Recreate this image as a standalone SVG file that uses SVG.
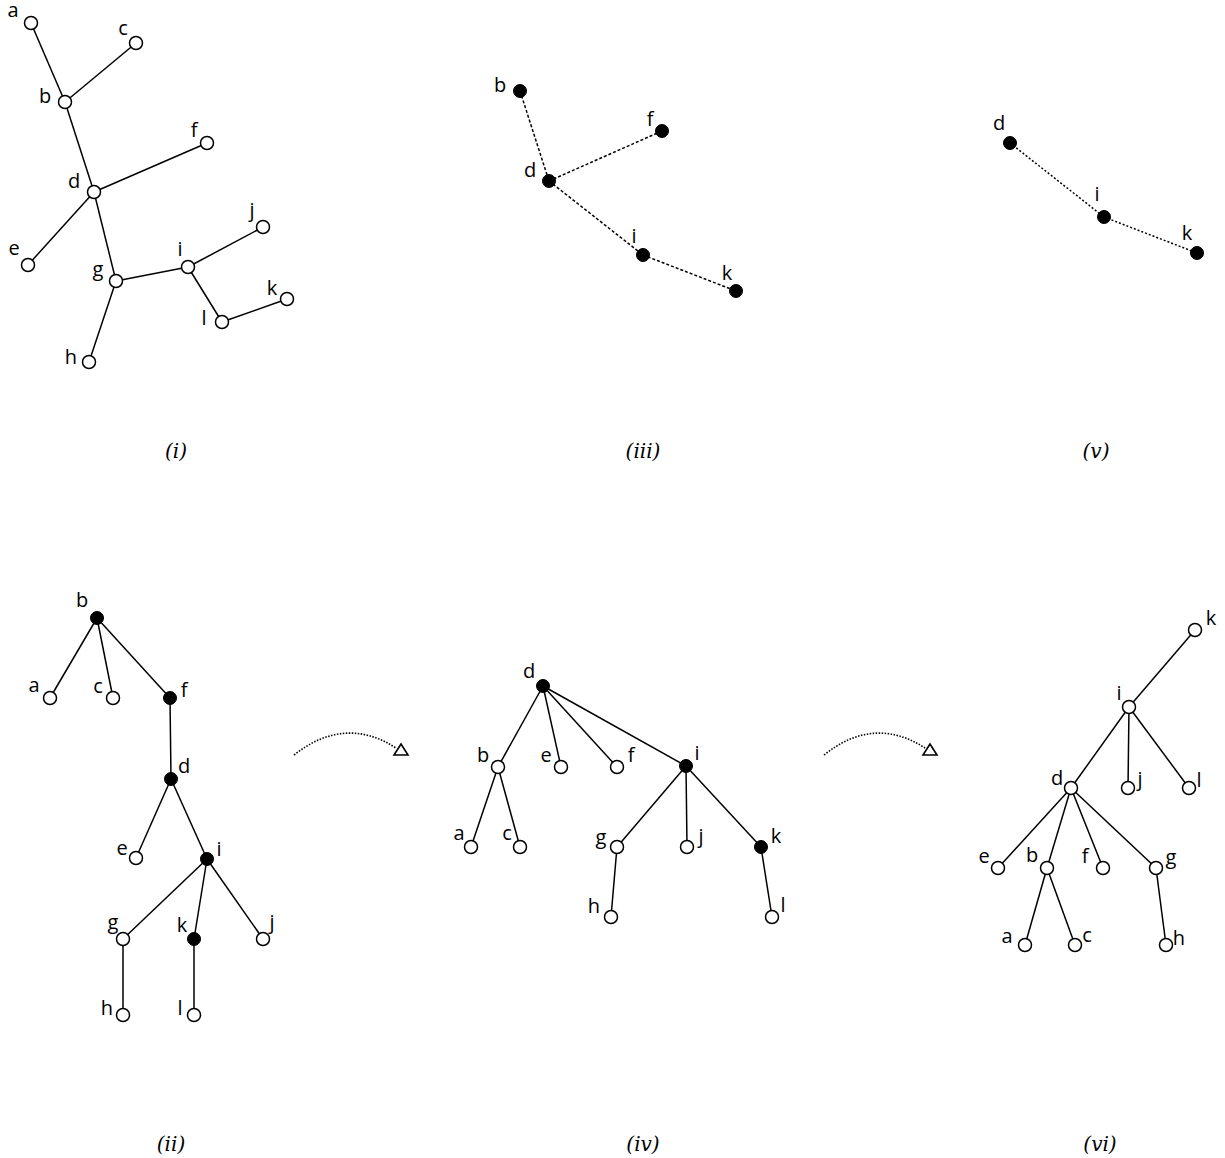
<svg xmlns="http://www.w3.org/2000/svg" width="1225" height="1158" viewBox="0 0 1225 1158">
<style>
.e{stroke:#000;stroke-width:1.5;fill:none}
.dash{stroke:#000;stroke-width:1.5;fill:none;stroke-dasharray:3 2}
.dot{stroke:#000;stroke-width:1.5;fill:none;stroke-dasharray:2 2}
.arc{stroke:#000;stroke-width:1.6;fill:none;stroke-dasharray:1.5 1.5}
.o{fill:#fff;stroke:#000;stroke-width:1.5}
.f{fill:#000;stroke:#000;stroke-width:1}
.t{font-family:"Open Sans","DejaVu Sans",sans-serif;font-size:20px;fill:#000;text-anchor:middle}
.cap{font-family:"DejaVu Serif",serif;font-style:italic;font-size:20px;fill:#000;text-anchor:middle}
.tri{fill:#fff;stroke:#000;stroke-width:1.6}
</style>
<rect width="1225" height="1158" fill="#fff"/>
<g id="connectors">
<line class="e" x1="31" y1="23" x2="65" y2="102"/>
<line class="e" x1="136" y1="43" x2="65" y2="102"/>
<line class="e" x1="65" y1="102" x2="94" y2="192"/>
<line class="e" x1="94" y1="192" x2="207" y2="143"/>
<line class="e" x1="94" y1="192" x2="28" y2="265"/>
<line class="e" x1="94" y1="192" x2="116" y2="281"/>
<line class="e" x1="116" y1="281" x2="188" y2="267"/>
<line class="e" x1="116" y1="281" x2="89" y2="362"/>
<line class="e" x1="188" y1="267" x2="263" y2="227"/>
<line class="e" x1="188" y1="267" x2="222" y2="322"/>
<line class="e" x1="222" y1="322" x2="287" y2="299"/>
<line class="dash" x1="520" y1="91" x2="549" y2="181"/>
<line class="dash" x1="549" y1="181" x2="662" y2="131"/>
<line class="dash" x1="549" y1="181" x2="643" y2="255"/>
<line class="dash" x1="643" y1="255" x2="736" y2="291"/>
<line class="dot" x1="1010" y1="143" x2="1104" y2="217"/>
<line class="dot" x1="1104" y1="217" x2="1197" y2="253"/>
<line class="e" x1="97" y1="618" x2="50" y2="698"/>
<line class="e" x1="97" y1="618" x2="113" y2="698"/>
<line class="e" x1="97" y1="618" x2="170" y2="698"/>
<line class="e" x1="170" y1="698" x2="171" y2="779"/>
<line class="e" x1="171" y1="779" x2="136" y2="858"/>
<line class="e" x1="171" y1="779" x2="207" y2="859"/>
<line class="e" x1="207" y1="859" x2="123" y2="939"/>
<line class="e" x1="207" y1="859" x2="194" y2="939"/>
<line class="e" x1="207" y1="859" x2="263" y2="939"/>
<line class="e" x1="123" y1="939" x2="123" y2="1015"/>
<line class="e" x1="194" y1="939" x2="194" y2="1015"/>
<line class="e" x1="543" y1="686" x2="498" y2="767"/>
<line class="e" x1="543" y1="686" x2="561" y2="767"/>
<line class="e" x1="543" y1="686" x2="617" y2="767"/>
<line class="e" x1="543" y1="686" x2="686" y2="766"/>
<line class="e" x1="498" y1="767" x2="471" y2="847"/>
<line class="e" x1="498" y1="767" x2="520" y2="847"/>
<line class="e" x1="686" y1="766" x2="617" y2="847"/>
<line class="e" x1="686" y1="766" x2="687" y2="847"/>
<line class="e" x1="686" y1="766" x2="761" y2="847"/>
<line class="e" x1="617" y1="847" x2="611" y2="917"/>
<line class="e" x1="761" y1="847" x2="772" y2="917"/>
<line class="e" x1="1195" y1="630" x2="1129" y2="707"/>
<line class="e" x1="1129" y1="707" x2="1071" y2="788"/>
<line class="e" x1="1129" y1="707" x2="1128" y2="788"/>
<line class="e" x1="1129" y1="707" x2="1189" y2="788"/>
<line class="e" x1="1071" y1="788" x2="998" y2="868"/>
<line class="e" x1="1071" y1="788" x2="1047" y2="868"/>
<line class="e" x1="1071" y1="788" x2="1103" y2="868"/>
<line class="e" x1="1071" y1="788" x2="1156" y2="868"/>
<line class="e" x1="1047" y1="868" x2="1025" y2="945"/>
<line class="e" x1="1047" y1="868" x2="1075" y2="945"/>
<line class="e" x1="1156" y1="868" x2="1166" y2="945"/>
<path class="arc" d="M294,755 Q345,715 396,748"/>
<polygon class="tri" points="401,744 394,755 408,755"/>
<path class="arc" d="M824,755 Q874,715 925,748"/>
<polygon class="tri" points="930,744 923,755 937,755"/>
</g>
<g id="panel-i">
<g id="i-a"><circle class="o" cx="31" cy="23" r="6.5"/><text class="t" x="13" y="17">a</text></g>
<g id="i-c"><circle class="o" cx="136" cy="43" r="6.5"/><text class="t" x="123" y="35">c</text></g>
<g id="i-b"><circle class="o" cx="65" cy="102" r="6.5"/><text class="t" x="45" y="103">b</text></g>
<g id="i-f"><circle class="o" cx="207" cy="143" r="6.5"/><text class="t" x="194" y="137">f</text></g>
<g id="i-d"><circle class="o" cx="94" cy="192" r="6.5"/><text class="t" x="74" y="188">d</text></g>
<g id="i-e"><circle class="o" cx="28" cy="265" r="6.5"/><text class="t" x="14" y="255">e</text></g>
<g id="i-j"><circle class="o" cx="263" cy="227" r="6.5"/><text class="t" x="252" y="217">j</text></g>
<g id="i-i"><circle class="o" cx="188" cy="267" r="6.5"/><text class="t" x="180" y="256">i</text></g>
<g id="i-g"><circle class="o" cx="116" cy="281" r="6.5"/><text class="t" x="98" y="276">g</text></g>
<g id="i-k"><circle class="o" cx="287" cy="299" r="6.5"/><text class="t" x="272" y="295">k</text></g>
<g id="i-l"><circle class="o" cx="222" cy="322" r="6.5"/><text class="t" x="204" y="325">l</text></g>
<g id="i-h"><circle class="o" cx="89" cy="362" r="6.5"/><text class="t" x="71" y="364">h</text></g>
</g>
<g id="panel-iii">
<g id="iii-b"><circle class="f" cx="520" cy="91" r="6.5"/><text class="t" x="500" y="92">b</text></g>
<g id="iii-f"><circle class="f" cx="662" cy="131" r="6.5"/><text class="t" x="650" y="126">f</text></g>
<g id="iii-d"><circle class="f" cx="549" cy="181" r="6.5"/><text class="t" x="530" y="177">d</text></g>
<g id="iii-i"><circle class="f" cx="643" cy="255" r="6.5"/><text class="t" x="634" y="243">i</text></g>
<g id="iii-k"><circle class="f" cx="736" cy="291" r="6.5"/><text class="t" x="727" y="280">k</text></g>
</g>
<g id="panel-v">
<g id="v-d"><circle class="f" cx="1010" cy="143" r="6.5"/><text class="t" x="999" y="130">d</text></g>
<g id="v-i"><circle class="f" cx="1104" cy="217" r="6.5"/><text class="t" x="1097" y="201">i</text></g>
<g id="v-k"><circle class="f" cx="1197" cy="253" r="6.5"/><text class="t" x="1187" y="240">k</text></g>
</g>
<g id="panel-ii">
<g id="ii-b"><circle class="f" cx="97" cy="618" r="6.5"/><text class="t" x="82" y="607">b</text></g>
<g id="ii-a"><circle class="o" cx="50" cy="698" r="6.5"/><text class="t" x="34" y="692">a</text></g>
<g id="ii-c"><circle class="o" cx="113" cy="698" r="6.5"/><text class="t" x="98" y="693">c</text></g>
<g id="ii-f"><circle class="f" cx="170" cy="698" r="6.5"/><text class="t" x="184" y="697">f</text></g>
<g id="ii-d"><circle class="f" cx="171" cy="779" r="6.5"/><text class="t" x="184" y="773">d</text></g>
<g id="ii-e"><circle class="o" cx="136" cy="858" r="6.5"/><text class="t" x="122" y="855">e</text></g>
<g id="ii-i"><circle class="f" cx="207" cy="859" r="6.5"/><text class="t" x="219" y="856">i</text></g>
<g id="ii-g"><circle class="o" cx="123" cy="939" r="6.5"/><text class="t" x="113" y="929">g</text></g>
<g id="ii-k"><circle class="f" cx="194" cy="939" r="6.5"/><text class="t" x="182" y="932">k</text></g>
<g id="ii-j"><circle class="o" cx="263" cy="939" r="6.5"/><text class="t" x="272" y="929">j</text></g>
<g id="ii-h"><circle class="o" cx="123" cy="1015" r="6.5"/><text class="t" x="107" y="1015">h</text></g>
<g id="ii-l"><circle class="o" cx="194" cy="1015" r="6.5"/><text class="t" x="180" y="1015">l</text></g>
</g>
<g id="panel-iv">
<g id="iv-d"><circle class="f" cx="543" cy="686" r="6.5"/><text class="t" x="529" y="678">d</text></g>
<g id="iv-b"><circle class="o" cx="498" cy="767" r="6.5"/><text class="t" x="483" y="762">b</text></g>
<g id="iv-e"><circle class="o" cx="561" cy="767" r="6.5"/><text class="t" x="546" y="762">e</text></g>
<g id="iv-f"><circle class="o" cx="617" cy="767" r="6.5"/><text class="t" x="631" y="762">f</text></g>
<g id="iv-i"><circle class="f" cx="686" cy="766" r="6.5"/><text class="t" x="697" y="760">i</text></g>
<g id="iv-a"><circle class="o" cx="471" cy="847" r="6.5"/><text class="t" x="459" y="840">a</text></g>
<g id="iv-c"><circle class="o" cx="520" cy="847" r="6.5"/><text class="t" x="507" y="840">c</text></g>
<g id="iv-g"><circle class="o" cx="617" cy="847" r="6.5"/><text class="t" x="601" y="844">g</text></g>
<g id="iv-j"><circle class="o" cx="687" cy="847" r="6.5"/><text class="t" x="701" y="843">j</text></g>
<g id="iv-k"><circle class="f" cx="761" cy="847" r="6.5"/><text class="t" x="776" y="843">k</text></g>
<g id="iv-h"><circle class="o" cx="611" cy="917" r="6.5"/><text class="t" x="594" y="913">h</text></g>
<g id="iv-l"><circle class="o" cx="772" cy="917" r="6.5"/><text class="t" x="783" y="912">l</text></g>
</g>
<g id="panel-vi">
<g id="vi-k"><circle class="o" cx="1195" cy="630" r="6.5"/><text class="t" x="1211" y="625">k</text></g>
<g id="vi-i"><circle class="o" cx="1129" cy="707" r="6.5"/><text class="t" x="1119" y="700">i</text></g>
<g id="vi-d"><circle class="o" cx="1071" cy="788" r="6.5"/><text class="t" x="1057" y="785">d</text></g>
<g id="vi-j"><circle class="o" cx="1128" cy="788" r="6.5"/><text class="t" x="1140" y="786">j</text></g>
<g id="vi-l"><circle class="o" cx="1189" cy="788" r="6.5"/><text class="t" x="1199" y="787">l</text></g>
<g id="vi-e"><circle class="o" cx="998" cy="868" r="6.5"/><text class="t" x="984" y="863">e</text></g>
<g id="vi-b"><circle class="o" cx="1047" cy="868" r="6.5"/><text class="t" x="1032" y="862">b</text></g>
<g id="vi-f"><circle class="o" cx="1103" cy="868" r="6.5"/><text class="t" x="1085" y="863">f</text></g>
<g id="vi-g"><circle class="o" cx="1156" cy="868" r="6.5"/><text class="t" x="1171" y="864">g</text></g>
<g id="vi-a"><circle class="o" cx="1025" cy="945" r="6.5"/><text class="t" x="1007" y="943">a</text></g>
<g id="vi-c"><circle class="o" cx="1075" cy="945" r="6.5"/><text class="t" x="1087" y="942">c</text></g>
<g id="vi-h"><circle class="o" cx="1166" cy="945" r="6.5"/><text class="t" x="1179" y="945">h</text></g>
</g>
<g id="captions">
<text class="cap" x="176" y="458">(i)</text>
<text class="cap" x="643" y="458">(iii)</text>
<text class="cap" x="1096" y="458">(v)</text>
<text class="cap" x="171" y="1151">(ii)</text>
<text class="cap" x="643" y="1151">(iv)</text>
<text class="cap" x="1100" y="1151">(vi)</text>
</g>
</svg>
